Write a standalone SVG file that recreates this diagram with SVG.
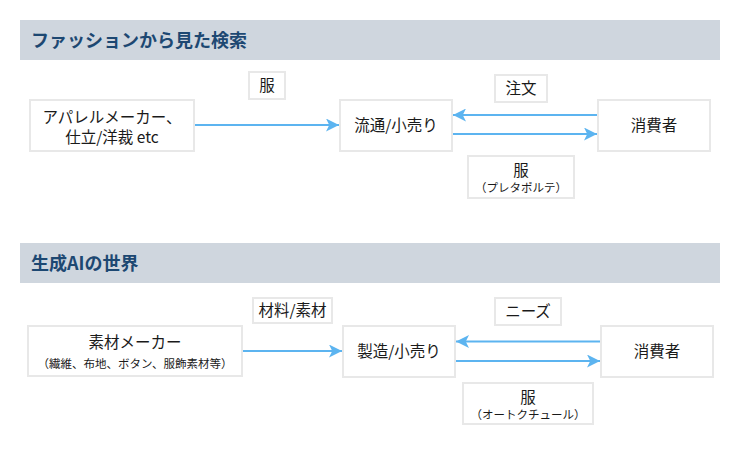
<svg xmlns="http://www.w3.org/2000/svg" width="740" height="450" viewBox="0 0 740 450">
<style>
.hdr{fill:#cfd6de}
.ht{font-family:"Noto Sans CJK JP","Noto Sans",sans-serif;font-size:18px;font-weight:bold;fill:#1d4872}
.box{fill:#fff;stroke:#e8e8e8;stroke-width:2}
.t{font-family:"Noto Sans CJK JP","Noto Sans",sans-serif;font-size:15.5px;fill:#1a1a1a;text-anchor:middle}
.s{font-family:"Noto Sans CJK JP","Noto Sans",sans-serif;font-size:11.5px;fill:#1a1a1a;text-anchor:middle}
.ln{stroke:#5cb4f0;stroke-width:2;fill:none;marker-end:url(#ah)}
</style>
<defs>
<marker id="ah" viewBox="0 0 10 10" refX="10" refY="5" markerWidth="6.5" markerHeight="6.5" markerUnits="strokeWidth" orient="auto">
<path d="M0,0 L10,5 L0,10 L2.5,5 Z" fill="#5cb4f0"/>
</marker>
</defs>
<rect width="740" height="450" fill="#fff"/>

<g id="header1">
<rect class="hdr" x="20" y="20" width="700" height="40"/>
<text class="ht" x="31" y="47">ファッションから見た検索</text>
</g>
<g id="header2">
<rect class="hdr" x="20" y="243" width="700" height="40"/>
<text class="ht" x="31" y="270">生成AIの世界</text>
</g>

<g id="connectors">
<line class="ln" x1="194" y1="125" x2="339" y2="125"/>
<line class="ln" x1="598" y1="115" x2="453" y2="115"/>
<line class="ln" x1="452" y1="134" x2="597" y2="134"/>
<line class="ln" x1="242" y1="351" x2="342" y2="351"/>
<line class="ln" x1="601" y1="341.5" x2="456" y2="341.5"/>
<line class="ln" x1="455" y1="361" x2="600" y2="361"/>
</g>

<g id="n-apparel">
<rect class="box" x="30" y="100" width="164" height="51"/>
<text class="t" x="112" y="122.5">アパレルメーカー、</text>
<text class="t" x="112" y="142.5">仕立/洋裁 etc</text>
</g>
<g id="n-ryutsu">
<rect class="box" x="340" y="100" width="112" height="51"/>
<text class="t" x="396" y="130.5">流通/小売り</text>
</g>
<g id="n-consumer1">
<rect class="box" x="598" y="100" width="112" height="51"/>
<text class="t" x="654" y="130.5">消費者</text>
</g>
<g id="l-fuku1">
<rect class="box" x="249" y="72" width="36" height="27"/>
<text class="t" x="267" y="91">服</text>
</g>
<g id="l-chumon">
<rect class="box" x="495" y="75" width="52" height="27"/>
<text class="t" x="521" y="94">注文</text>
</g>
<g id="l-fuku2">
<rect class="box" x="468" y="156" width="106" height="42"/>
<text class="t" x="521" y="175.5">服</text>
<text class="s" x="521" y="192">（プレタポルテ）</text>
</g>

<g id="n-sozai">
<rect class="box" x="28" y="326" width="214" height="50"/>
<text class="t" x="135" y="348">素材メーカー</text>
<text class="s" x="135" y="368">（繊維、布地、ボタン、服飾素材等）</text>
</g>
<g id="n-seizo">
<rect class="box" x="343" y="326" width="112" height="51"/>
<text class="t" x="399" y="356.5">製造/小売り</text>
</g>
<g id="n-consumer2">
<rect class="box" x="601" y="326" width="112" height="51"/>
<text class="t" x="657" y="356.5">消費者</text>
</g>
<g id="l-zairyo">
<rect class="box" x="253" y="298" width="79" height="25"/>
<text class="t" x="292.5" y="315.5">材料/素材</text>
</g>
<g id="l-needs">
<rect class="box" x="495" y="298" width="66" height="27"/>
<text class="t" x="528" y="317">ニーズ</text>
</g>
<g id="l-fuku3">
<rect class="box" x="463" y="383" width="130" height="41"/>
<text class="t" x="528" y="403">服</text>
<text class="s" x="528" y="419">（オートクチュール）</text>
</g>
</svg>
